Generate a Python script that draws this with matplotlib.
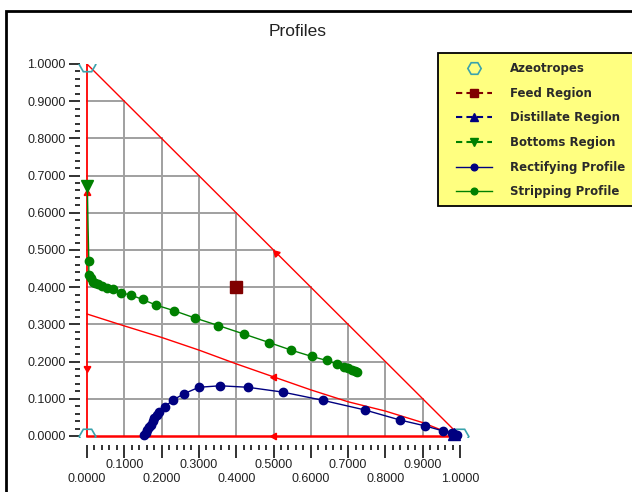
import matplotlib.pyplot as plt
import numpy as np
from matplotlib.patches import Rectangle

plt.rcParams['font.family'] = ['Liberation Sans', 'DejaVu Sans']

# boundary separatrix (red)
sep_x = [0.0, 0.1, 0.2, 0.3, 0.4, 0.5, 0.6, 0.7, 0.8, 0.9, 0.95, 1.0]
sep_y = [0.328, 0.296, 0.265, 0.231, 0.194, 0.159, 0.124, 0.092, 0.067, 0.036, 0.016, 0.0]

# stripping profile (green)
strip_x = [0.001, 0.003, 0.005, 0.005, 0.010, 0.015, 0.021, 0.030, 0.039, 0.053, 0.071,
           0.090, 0.118, 0.149, 0.185, 0.233, 0.290, 0.352, 0.421, 0.489, 0.547, 0.602,
           0.643, 0.671, 0.690, 0.700, 0.710, 0.719, 0.725]
strip_y = [0.672, 0.560, 0.471, 0.433, 0.424, 0.415, 0.410, 0.408, 0.404, 0.399, 0.394,
           0.385, 0.379, 0.367, 0.352, 0.337, 0.317, 0.297, 0.274, 0.251, 0.231, 0.214,
           0.203, 0.193, 0.186, 0.182, 0.177, 0.175, 0.173]

# rectifying profile (blue)
rect_x = [0.153, 0.157, 0.162, 0.166, 0.171, 0.176, 0.181, 0.187, 0.194, 0.209, 0.231,
          0.261, 0.300, 0.357, 0.431, 0.525, 0.632, 0.745, 0.839, 0.907, 0.953, 0.978,
          0.984, 0.991]
rect_y = [0.003, 0.009, 0.016, 0.023, 0.030, 0.039, 0.048, 0.056, 0.065, 0.079, 0.097,
          0.114, 0.131, 0.135, 0.131, 0.118, 0.096, 0.070, 0.043, 0.027, 0.014, 0.009,
          0.005, 0.003]

feed = (0.40, 0.40)
distillate = (0.985, 0.005)
bottoms = (0.0, 0.672)
azeo_x = [0.0, 0.0, 1.0]
azeo_y = [1.0, 0.0, 0.0]

# arrows on the red boundaries: x, y, direction
arrow_x = [0.0, 0.0, 0.508, 0.5, 0.5]
arrow_y = [0.653, 0.183, 0.491, 0.0, 0.159]
arrow_dir = [0, 180, 45, 90, 90]

ticks = np.round(np.arange(0, 1.01, 0.1), 1)
grid_vals = ticks[1:-1]

fig = plt.figure(figsize=(6.32, 4.92), dpi=100)
ax = fig.add_axes([79.5 / 632, 46.7 / 492, 388 / 632, 381.3 / 492])
ax.set_xlim(-0.02, 1.02)
ax.set_ylim(-0.025, 1.0)
for s in ax.spines.values():
    s.set_visible(False)

# grid inside triangle
for g in grid_vals:
    ax.plot([g, g], [0, 1 - g], color='#a0a0a0', lw=1.4, zorder=1)
    ax.plot([0, 1 - g], [g, g], color='#a0a0a0', lw=1.4, zorder=1)

# triangle edges and separatrix
ax.plot([0, 0], [0, 1], color='red', lw=1.3, zorder=2)
ax.plot([0, 1], [1, 0], color='red', lw=1.0, zorder=2)
ax.plot([0, 1], [0, 0], color='red', lw=1.8, zorder=2)
ax.plot(sep_x, sep_y, color='red', lw=1.0, zorder=2)
for x, y, d in zip(arrow_x, arrow_y, arrow_dir):
    ax.plot(x, y, marker=(3, 0, d), color='red', ms=5.5, zorder=3, clip_on=False)

az, = ax.plot(azeo_x, azeo_y, ls='none', marker='H', ms=12, mfc='none', mec='#3aa3ad',
              mew=1.2, zorder=4, label='Azeotropes')
az.set_clip_path(Rectangle((-0.1, -0.004), 1.3, 1.004, transform=ax.transData))

dash = (0, (3, 2))
fd, = ax.plot([feed[0]], [feed[1]], ls=dash, marker='s', ms=8, color='#800000',
              label='Feed Region', zorder=5, clip_on=False)
di, = ax.plot([distillate[0]], [distillate[1]], ls=dash, marker='^', ms=8, color='#000080',
              label='Distillate Region', zorder=6, clip_on=False)
bt, = ax.plot([bottoms[0]], [bottoms[1]], ls=dash, marker='v', ms=8, color='#008000',
              label='Bottoms Region', zorder=5, clip_on=False)
rp, = ax.plot(rect_x, rect_y, color='#000080', lw=1.0, marker='o', ms=6,
              label='Rectifying Profile', zorder=5, clip_on=False)
sp, = ax.plot(strip_x[2:], strip_y[2:], color='#008000', lw=1.0, marker='o', ms=6,
              label='Stripping Profile', zorder=5, clip_on=False)
ax.plot(strip_x[:3], strip_y[:3], color='#008000', lw=1.0, zorder=5)

# axis ticks
ax.set_xticks(ticks)
ax.set_xticklabels(['{:.4f}'.format(t) if i % 2 else '\n{:.4f}'.format(t)
                    for i, t in enumerate(ticks)])
ax.set_yticks(ticks)
ax.set_yticklabels(['{:.4f}'.format(t) for t in ticks])
ax.set_xticks(np.arange(0, 1.001, 0.02), minor=True)
ax.set_yticks(np.arange(0, 1.001, 0.02), minor=True)
ax.tick_params(which='major', direction='out', length=8, width=1.3, labelsize=9,
               pad=2, colors='#222222')
ax.tick_params(which='minor', direction='out', length=3.5, width=1.3, colors='#222222')
ax.tick_params(axis='x', which='major', length=9, pad=1)

fig.text(298 / 632, 1 - 32 / 492, 'Profiles', fontsize=12.5, ha='center', va='center',
         color='#222222')

# legend box drawn by hand, legend entries on top
fig.patches.append(Rectangle((438 / 632, 1 - 206 / 492), 200 / 632, 153 / 492,
                             facecolor='#ffff80', edgecolor='black', lw=1.3,
                             transform=fig.transFigure, zorder=1))
leg = fig.legend(handles=[az, fd, di, bt, rp, sp], loc='upper left',
                 bbox_to_anchor=(456 / 632, 1 - 62 / 492), borderaxespad=0, borderpad=0,
                 frameon=False, prop={'family': 'DejaVu Sans', 'size': 8.5, 'weight': 'bold'},
                 handlelength=3.05, handletextpad=1.5, labelspacing=0.99, markerscale=0.8)
leg.set_zorder(5)
for t in leg.get_texts():
    t.set_color('#2a2a2a')

fig.patches.append(Rectangle((6 / 632, -0.1), 2, 1.1 - 11 / 492, fill=False,
                             edgecolor='black', lw=2, transform=fig.transFigure))

fig.savefig('out.png', dpi=100)
